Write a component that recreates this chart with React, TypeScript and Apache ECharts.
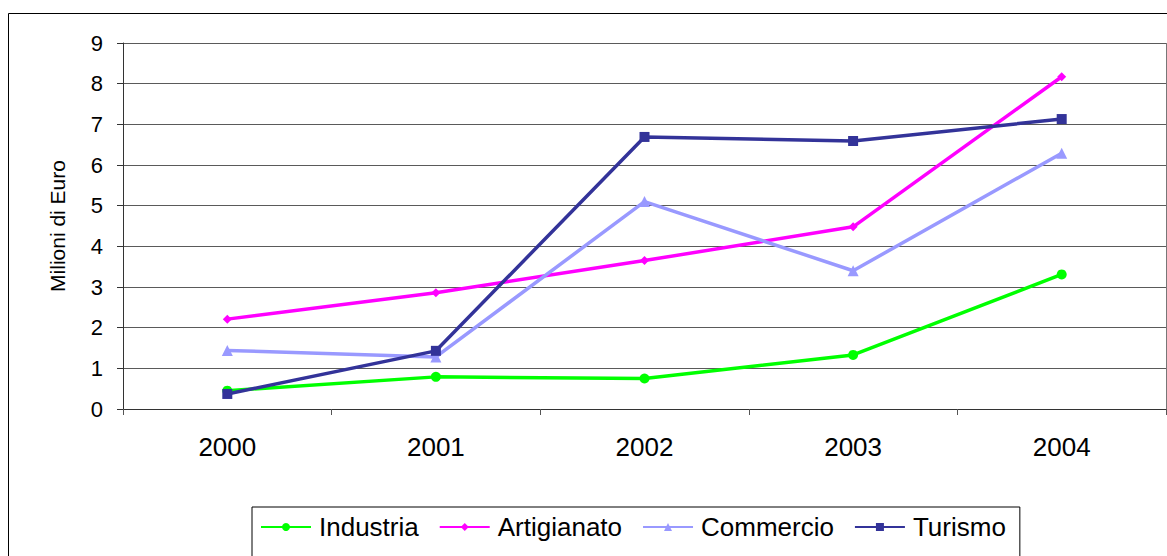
import React, { useEffect, useRef } from "react";
import * as echarts from "echarts";

const years = ["2000", "2001", "2002", "2003", "2004"];
const industria = [0.45, 0.79, 0.75, 1.33, 3.31];
const artigianato = [2.21, 2.86, 3.65, 4.48, 8.17];
const commercio = [1.44, 1.28, 5.1, 3.4, 6.29];
const turismo = [0.37, 1.43, 6.69, 6.59, 7.13];
const yTicks = [0, 1, 2, 3, 4, 5, 6, 7, 8, 9];

export default function App() {
  const ref = useRef<HTMLDivElement>(null);
  useEffect(() => {
    if (!ref.current) return;
    const chart = echarts.init(ref.current, null, { renderer: "svg" });
    const font = "'Liberation Sans', Arial, sans-serif";
    const mk = (name: string, data: number[], color: string, symbol: string, size: number) => ({
      name,
      type: "line",
      data,
      symbol,
      symbolSize: size,
      lineStyle: { color, width: 3.5 },
      itemStyle: { color },
      emphasis: { disabled: true },
    });
    chart.setOption({
      animation: false,
      backgroundColor: "#fff",
      textStyle: { fontFamily: font },
      grid: { left: 123, right: 1, top: 43, bottom: 147, containLabel: false },
      xAxis: {
        type: "category",
        data: years,
        boundaryGap: true,
        axisLine: { lineStyle: { color: "#333", width: 1 } },
        axisTick: { show: true, length: 6, lineStyle: { color: "#555" } },
        axisLabel: { color: "#000", fontSize: 26, margin: 25, fontFamily: font },
      },
      yAxis: {
        type: "value",
        min: yTicks[0],
        max: yTicks[yTicks.length - 1],
        interval: 1,
        name: "Milioni di Euro",
        nameLocation: "middle",
        nameGap: 55,
        nameRotate: 90,
        nameTextStyle: { color: "#000", fontSize: 21, fontFamily: font },
        axisLine: { show: true, lineStyle: { color: "#333", width: 1 } },
        axisTick: { show: true, length: 6, lineStyle: { color: "#333" } },
        axisLabel: { color: "#000", fontSize: 22, margin: 20, fontFamily: font },
        splitLine: { show: true, lineStyle: { color: "#5a5a5a", width: 1 } },
      },
      legend: {
        left: 252,
        top: 507,
        padding: [7, 14, 20, 8],
        borderColor: "#000",
        borderWidth: 1,
        itemWidth: 50,
        itemHeight: 10,
        itemGap: 20,
        textStyle: { color: "#000", fontSize: 26, fontFamily: font, padding: [0, 0, 0, 3] },
        data: ["Industria", "Artigianato", "Commercio", "Turismo"],
      },
      graphic: [
        {
          type: "rect",
          shape: { x: 8.5, y: 13.5, width: 1170, height: 560 },
          style: { fill: "none", stroke: "#000", lineWidth: 1 },
          silent: true,
        },
        {
          type: "line",
          shape: { x1: 1166.5, y1: 43, x2: 1166.5, y2: 409 },
          style: { stroke: "#777", lineWidth: 1 },
          silent: true,
        },
      ],
      series: [
        mk("Industria", industria, "#00ff00", "circle", 10),
        mk("Artigianato", artigianato, "#ff00ff", "diamond", 9),
        mk("Commercio", commercio, "#9999ff", "triangle", 11),
        mk("Turismo", turismo, "#333399", "rect", 10),
      ],
    });
    return () => chart.dispose();
  }, []);
  return (
    <div
      ref={ref}
      style={{ position: "fixed", left: 0, top: 0, width: 1167, height: 556 }}
    />
  );
}
